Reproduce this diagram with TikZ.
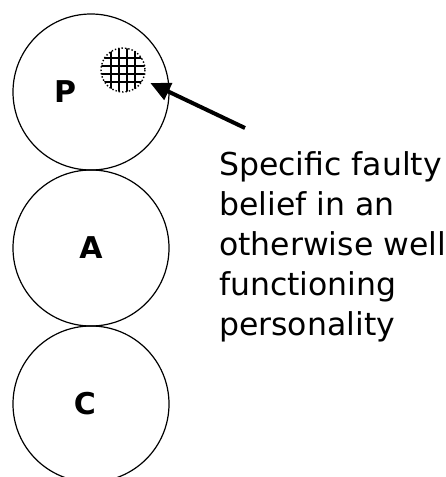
\documentclass[tikz,border=0pt]{standalone}
\usepackage{fontspec}
\setsansfont{DejaVu Sans}
\usetikzlibrary{arrows.meta,positioning}

\begin{document}
\begin{tikzpicture}[x=1pt,y=-1pt, node distance=0pt,
  part/.style={draw,circle,minimum size=156pt,inner sep=0pt,outer sep=0pt,line width=1.2pt},
  letter/.style={font=\sffamily\bfseries\fontsize{30}{30}\selectfont,inner sep=0pt},
  note/.style={align=left,anchor=north west,inner sep=0pt,font=\sffamily\fontsize{31.5}{40}\selectfont},
  >={Triangle[length=20pt,width=18pt]}]
\useasboundingbox (0,0) rectangle (446,477);
\node[part] (P) at (91,92) {};
\node[part,below=of P] (A) {};
\node[part,below=of A] (C) {};
\node[letter] (pname) at ([xshift=-26pt]P.center) {P};
\node[letter] (aname) at (A.center) {A};
\node[letter] (cname) at ([xshift=-6pt]C.center) {C};
% the faulty spot
\node[circle,minimum size=46pt,inner sep=0pt] (belief) at (123,70) {};
\begin{scope}
\clip (belief.center) circle (22);
\foreach \d in {-12,-4,4,12} {
  \draw[line width=1.7pt] ([xshift=\d pt]belief.north) -- ([xshift=\d pt]belief.south);
  \draw[line width=1.7pt] ([yshift=\d pt]belief.west) -- ([yshift=\d pt]belief.east);
}
\end{scope}
\draw[dotted,line width=1.4pt] (belief.center) circle (22);
\node[note] (caption) at (219,151) {Specific faulty\\belief in an\\otherwise well\\functioning\\personality};
\coordinate (tail) at (245,128);
\draw[->,line width=4pt,shorten >=7pt] (tail) -- (belief);
\end{tikzpicture}
\end{document}
